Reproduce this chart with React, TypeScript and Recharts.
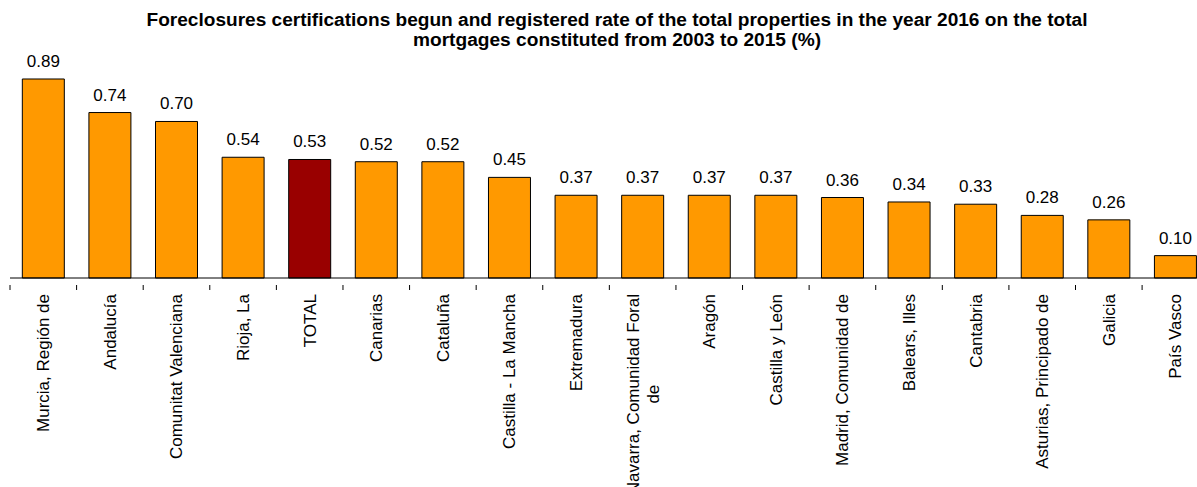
import React from "react";
import { BarChart, Bar, XAxis, YAxis, Cell, LabelList } from "recharts";

// Regions, ordered by rate (TOTAL is the national figure)
const regions: string[] = [
  "Murcia, Región de",
  "Andalucía",
  "Comunitat Valenciana",
  "Rioja, La",
  "TOTAL",
  "Canarias",
  "Cataluña",
  "Castilla - La Mancha",
  "Extremadura",
  "Navarra, Comunidad Foral de",
  "Aragón",
  "Castilla y León",
  "Madrid, Comunidad de",
  "Balears, Illes",
  "Cantabria",
  "Asturias, Principado de",
  "Galicia",
  "País Vasco",
];

// Rate (%) of foreclosure certifications over mortgages constituted 2003-2015
const rates: number[] = [
  0.89, 0.74, 0.7, 0.54, 0.53, 0.52, 0.52, 0.45, 0.37, 0.37, 0.37, 0.37, 0.36,
  0.34, 0.33, 0.28, 0.26, 0.1,
];

// Some long names wrap onto a second line
const labelLines: Record<string, string[]> = {
  "Navarra, Comunidad Foral de": ["Navarra, Comunidad Foral", "de"],
};

const titleLines: string[] = [
  "Foreclosures certifications begun and registered rate of the total properties in the year 2016 on the total",
  "mortgages constituted from 2003 to 2015 (%)",
];
// Rendered width of each title line (px)
const titleWidths: number[] = [941, 408];

const data = regions.map((name, i) => ({ name, value: rates[i] }));

const FONT = "'Liberation Sans', Arial, Helvetica, sans-serif";
const WIDTH = 1220;
const HEIGHT = 487;
const MARGIN = { top: 54.4, right: 11.3, left: 10, bottom: 0 };
const XAXIS_H = 209;
const BAND = (WIDTH - MARGIN.left - MARGIN.right) / regions.length;
const ORANGE = "#FF9900";
const DARK_RED = "#990000";

let measureCtx: CanvasRenderingContext2D | null = null;
function textWidth(s: string, size: number): number {
  if (!measureCtx) {
    measureCtx = document.createElement("canvas").getContext("2d");
  }
  if (!measureCtx) return s.length * size * 0.5;
  measureCtx.font = `${size}px ${FONT}`;
  return measureCtx.measureText(s).width;
}

const TICK_FS = 17;

function CategoryTick(props: any) {
  const { x, y, payload, index } = props;
  const name: string = payload.value;
  const lines = labelLines[name] || [name];
  const left = x - BAND / 2;
  const top = y + 8;
  const isLast = index === regions.length - 1;
  let labelEl: React.ReactNode;
  if (lines.length === 1) {
    labelEl = (
      <text
        transform={`translate(${x + 6},${top}) rotate(-90)`}
        textAnchor="end"
        fontSize={TICK_FS}
        fontFamily={FONT}
        fill="#000"
      >
        {name}
      </text>
    );
  } else {
    const w = Math.max(...lines.map((l) => textWidth(l, TICK_FS)));
    const lh = 20;
    const x0 = x + 6 - ((lines.length - 1) * lh) / 2;
    labelEl = lines.map((l, i) => (
      <text
        key={i}
        transform={`translate(${x0 + i * lh},${top + w / 2}) rotate(-90)`}
        textAnchor="middle"
        fontSize={TICK_FS}
        fontFamily={FONT}
        fill="#000"
      >
        {l}
      </text>
    ));
  }
  return (
    <g>
      <line x1={left} x2={left} y1={y - 1} y2={y + 4} stroke="#000" strokeWidth={1} />
      {isLast && (
        <line x1={left + BAND} x2={left + BAND} y1={y - 1} y2={y + 4} stroke="#000" strokeWidth={1} />
      )}
      {labelEl}
    </g>
  );
}

export default function App() {
  return (
    <div
      style={{
        position: "absolute",
        left: 0,
        top: 0,
        width: 1197,
        height: HEIGHT,
        overflow: "hidden",
        background: "#fff",
      }}
    >
      <svg
        width={1197}
        height={60}
        style={{ position: "absolute", left: 0, top: 0 }}
      >
        {titleLines.map((t, i) => (
          <text
            key={i}
            x={617}
            y={26 + i * 20}
            textAnchor="middle"
            fontSize={17.5}
            fontWeight="bold"
            fontFamily={FONT}
            fill="#000"
            textLength={titleWidths[i]}
            lengthAdjust="spacingAndGlyphs"
          >
            {t}
          </text>
        ))}
      </svg>
      <div style={{ position: "absolute", left: 0, top: 0 }}>
        <BarChart
          width={WIDTH}
          height={HEIGHT}
          data={data}
          margin={MARGIN}
          barCategoryGap="18.5%"
        >
          <YAxis hide domain={[0, 1]} type="number" />
          <XAxis
            dataKey="name"
            interval={0}
            height={XAXIS_H}
            axisLine={{ stroke: "#000", strokeWidth: 1 }}
            tickLine={false}
            tick={<CategoryTick />}
          />
          <Bar
            dataKey="value"
            stroke="#000"
            strokeWidth={1}
            isAnimationActive={false}
          >
            {data.map((d) => (
              <Cell key={d.name} fill={d.name === "TOTAL" ? DARK_RED : ORANGE} />
            ))}
            <LabelList
              dataKey="value"
              position="top"
              offset={12}
              fontSize={17}
              fontFamily={FONT}
              fill="#000"
              formatter={(v: any) => Number(v).toFixed(2)}
            />
          </Bar>
        </BarChart>
      </div>
    </div>
  );
}
